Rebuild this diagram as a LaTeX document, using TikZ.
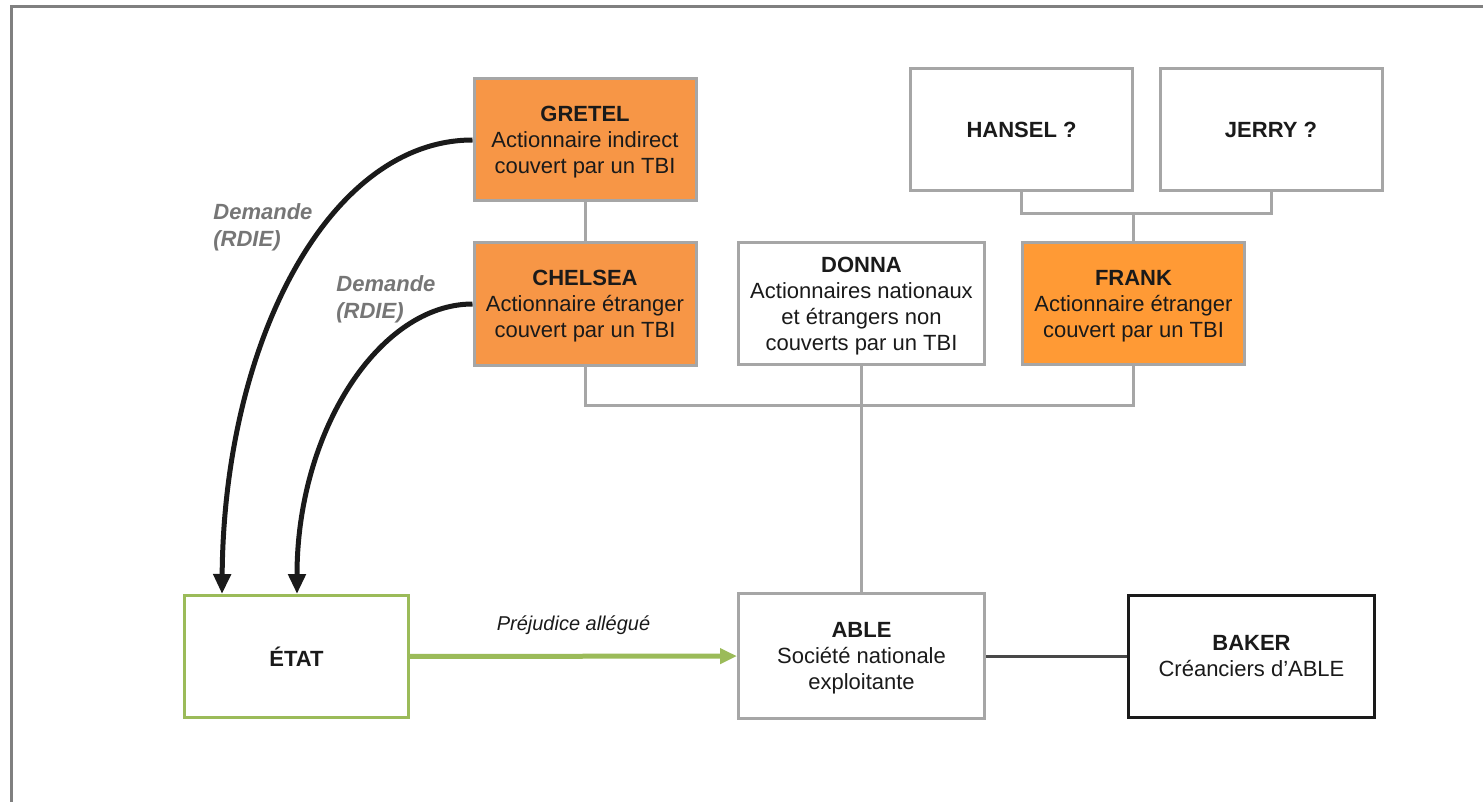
\documentclass[tikz,border=0pt]{standalone}
\usepackage{fontspec}
\setmainfont{Liberation Sans}
\usepackage{tikz}
\usetikzlibrary{arrows.meta}

\definecolor{boxgrey}{HTML}{A6A6A6}
\definecolor{framegrey}{HTML}{808080}
\definecolor{paleorange}{HTML}{F79646}
\definecolor{brightorange}{HTML}{FF9A35}
\definecolor{harmgreen}{HTML}{9BBB59}
\definecolor{inkblack}{HTML}{1A1A1A}
\definecolor{labelgrey}{HTML}{767676}

\begin{document}
\begin{tikzpicture}[x=0.5pt, y=-0.5pt,
    party/.style={draw=boxgrey, line width=1.5pt, fill=white, align=center,
      text=inkblack, inner sep=2pt, minimum width=111pt, minimum height=61pt,
      text depth=0pt, font=\fontsize{11}{13}\selectfont},
    orangeparty/.style={party, fill=paleorange},
    frankparty/.style={party, fill=brightorange},
    link/.style={draw=boxgrey, line width=1.5pt},
    claim/.style={draw=inkblack, line width=2.5pt, -{Triangle[width=8.5pt,length=10pt]}},
    harm/.style={draw=harmgreen, line width=2.5pt, -{Triangle[width=7.5pt,length=8.5pt]}},
    claimlabel/.style={text=labelgrey, align=left, inner sep=0pt, anchor=west,
      font=\fontsize{11}{13.5}\selectfont\bfseries\itshape}]
\useasboundingbox (0,0) rectangle (1483,802);
\draw[draw=framegrey, line width=1.5pt] (11,802) -- (11,7) -- (1483,7); % frame

\node[orangeparty] (gretel) at (585,140) {\textbf{GRETEL}\\Actionnaire indirect\\couvert par un TBI}; % GRETEL
\node[orangeparty] (chelsea) at (585,304) {\textbf{CHELSEA}\\Actionnaire étranger\\couvert par un TBI}; % CHELSEA
\node[party, minimum width=123pt] (donna) at (861.5,303.5) {\textbf{DONNA}\\Actionnaires nationaux\\et étrangers non\\couverts par un TBI}; % DONNA
\node[frankparty] (frank) at (1133.5,303.5) {\textbf{FRANK}\\Actionnaire étranger\\couvert par un TBI}; % FRANK
\node[party] (hansel) at (1021.5,129.5) {\textbf{HANSEL ?}}; % HANSEL
\node[party] (jerry) at (1271,129.5) {\textbf{JERRY ?}}; % JERRY
\node[party, draw=harmgreen, minimum width=112pt] (etat) at (296.5,656.5) {\textbf{ÉTAT}}; % ETAT
\node[party, minimum width=123pt, minimum height=62.5pt] (able) at (861.5,656) {\textbf{ABLE}\\Société nationale\\exploitante}; % ABLE
\node[party, draw=inkblack, minimum width=123pt] (baker) at (1251.5,656) {\textbf{BAKER}\\Créanciers d’ABLE}; % BAKER

\coordinate (hj) at (1133.5,214); % HANSEL-JERRY
\coordinate (owners) at (861.5,405); % shareholders of ABLE

\draw[link] (gretel) -- (chelsea); % GRETEL-CHELSEA
\draw[link] (hansel.south) |- (hj) -| (jerry.south); % HANSEL-JERRY
\draw[link] (hj) -- (frank.north); % FRANK
\draw[link] (chelsea.south) |- (owners) -| (frank.south); % shareholders
\draw[link] (donna.south) -- (able.north); % DONNA-ABLE
\draw[draw=inkblack!80, line width=1.5pt] (able) -- (baker); % ABLE-BAKER

\draw[harm] (etat) -- (able) node[midway, yshift=15.5pt, text=inkblack,
  font=\fontsize{10}{12}\selectfont\itshape] {Préjudice allégué}; % harm

\draw[claim] (gretel.west) .. controls (330,140) and (224,340) .. ([xshift=19.5pt]etat.north west); % claim GRETEL
\draw[claim] (chelsea.west) .. controls (380,304) and (297,430) .. ([xshift=57pt]etat.north west); % claim CHELSEA
\node[claimlabel] (demande1) at (213,227) {Demande\\(RDIE)}; % claim GRETEL
\node[claimlabel] (demande2) at (336,299) {Demande\\(RDIE)}; % claim CHELSEA
\end{tikzpicture}
\end{document}
